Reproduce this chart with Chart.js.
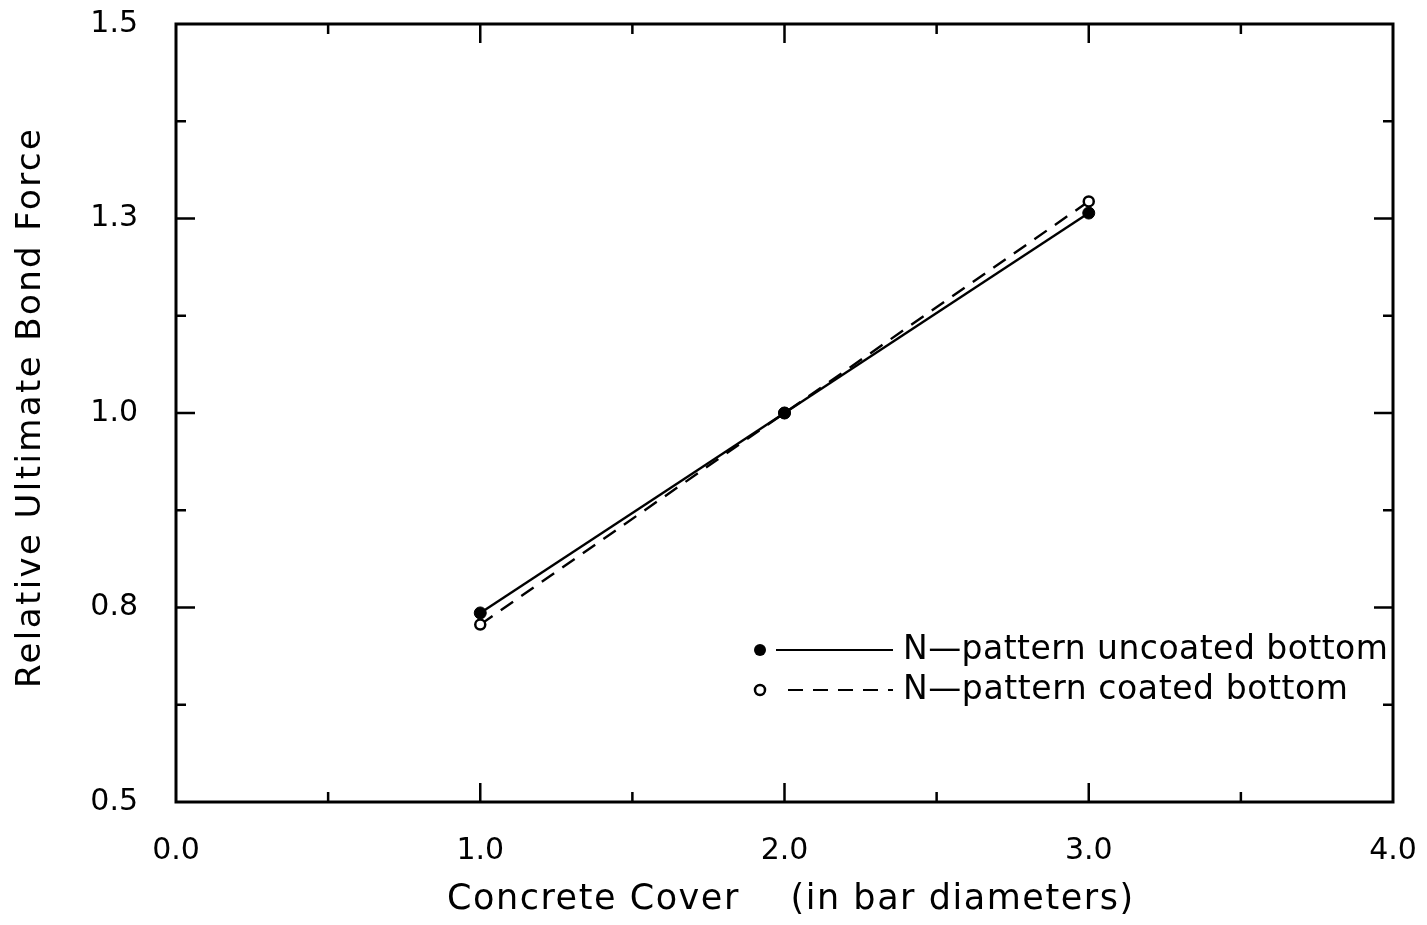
<!DOCTYPE html>
<html>
<head>
<meta charset="utf-8">
<title>Relative Ultimate Bond Force vs Concrete Cover</title>
<script src="https://cdn.jsdelivr.net/npm/chart.js@4.4.1/dist/chart.umd.min.js"></script>
<style>
  html, body { margin: 0; padding: 0; background: #ffffff; }
  #wrap { width: 1427px; height: 925px; position: relative; }
</style>
</head>
<body>
<div id="wrap"><canvas id="c" width="1427" height="925"></canvas></div>
<script>
// ---- data ----
const coverValues   = [1.0, 2.0, 3.0];
const uncoatedForce = [0.743, 1.0, 1.257];
const coatedForce   = [0.728, 1.0, 1.272];

const xTicks      = [0, 1, 2, 3, 4];
const xTickLabels = ['0.0', '1.0', '2.0', '3.0', '4.0'];
const xMinorTicks = [0.5, 1.5, 2.5, 3.5];
const yTicks      = [0.5, 0.75, 1.0, 1.25, 1.5];
const yTickLabels = ['0.5', '0.8', '1.0', '1.3', '1.5'];
const yMinorTicks = [0.625, 0.875, 1.125, 1.375];

const seriesNames = ['N\u2014pattern uncoated bottom', 'N\u2014pattern coated bottom'];
const xTitle = 'Concrete Cover    (in bar diameters)';
const yTitle = 'Relative Ultimate Bond Force';

// ---- styling ----
const FONT = '"DejaVu Sans", "Liberation Sans", sans-serif';
const INK = '#000000';

function toPoints(xs, ys) { return xs.map((x, i) => ({ x: x, y: ys[i] })); }

// Keep the plot frame fixed: no extra room reserved for overhanging tick labels
function noOverhang(s) {
  s.paddingTop = 0; s.paddingBottom = 0; s.paddingLeft = 0; s.paddingRight = 0;
}

// Text stretched to a given width with even letter spacing
function spacedText(ctx, text, x, y, width, font) {
  ctx.font = font;
  ctx.letterSpacing = '0px';
  const natural = ctx.measureText(text).width;
  const ls = (width - natural) / Math.max(1, text.length - 1);
  ctx.letterSpacing = ls.toFixed(2) + 'px';
  ctx.textAlign = 'left';
  ctx.fillText(text, x, y);
  ctx.letterSpacing = '0px';
}

// Closed frame with inward ticks on all four sides
const framePlugin = {
  id: 'frame',
  afterDraw(chart) {
    const { ctx, chartArea: a, scales } = chart;
    const xs = scales.x, ys = scales.y;
    ctx.save();
    ctx.strokeStyle = INK;
    ctx.lineWidth = 3;
    ctx.strokeRect(a.left, a.top, a.right - a.left, a.bottom - a.top);
    ctx.lineWidth = 2.5;
    const major = 19, minor = 10;
    const tickX = (v, len) => {
      const px = xs.getPixelForValue(v);
      ctx.beginPath();
      ctx.moveTo(px, a.bottom); ctx.lineTo(px, a.bottom - len);
      ctx.moveTo(px, a.top);    ctx.lineTo(px, a.top + len);
      ctx.stroke();
    };
    const tickY = (v, len) => {
      const py = ys.getPixelForValue(v);
      ctx.beginPath();
      ctx.moveTo(a.left, py);  ctx.lineTo(a.left + len, py);
      ctx.moveTo(a.right, py); ctx.lineTo(a.right - len, py);
      ctx.stroke();
    };
    xTicks.slice(1, -1).forEach(v => tickX(v, major));
    xMinorTicks.forEach(v => tickX(v, minor));
    yTicks.slice(1, -1).forEach(v => tickY(v, major));
    yMinorTicks.forEach(v => tickY(v, minor));
    ctx.restore();
  }
};

// Axis titles and the in-plot key
const labelPlugin = {
  id: 'labels',
  afterDraw(chart) {
    const { ctx } = chart;
    ctx.save();
    ctx.fillStyle = INK;
    ctx.textBaseline = 'middle';

    // x title
    spacedText(ctx, xTitle, 447, 900, 686, '35px ' + FONT);

    // y title (rotated)
    ctx.save();
    ctx.translate(31, 408);
    ctx.rotate(-Math.PI / 2);
    spacedText(ctx, yTitle, -280, 0, 559, '34px ' + FONT);
    ctx.restore();

    // key
    const rows = [650, 690];
    const markX = 760;
    ctx.strokeStyle = INK;
    ctx.lineWidth = 2.2;

    // filled marker + solid line
    ctx.beginPath();
    ctx.arc(markX, rows[0], 6, 0, Math.PI * 2);
    ctx.fill();
    ctx.beginPath();
    ctx.moveTo(776, rows[0]); ctx.lineTo(893, rows[0]);
    ctx.stroke();

    // open marker + dashed line
    ctx.beginPath();
    ctx.fillStyle = '#ffffff';
    ctx.lineWidth = 2.5;
    ctx.arc(markX, rows[1], 5, 0, Math.PI * 2);
    ctx.fill(); ctx.stroke();
    ctx.fillStyle = INK;
    ctx.lineWidth = 2.2;
    ctx.setLineDash([15, 10]);
    ctx.beginPath();
    ctx.moveTo(788, rows[1]); ctx.lineTo(893, rows[1]);
    ctx.stroke();
    ctx.setLineDash([]);

    spacedText(ctx, seriesNames[0], 903, rows[0], 485, '33px ' + FONT);
    spacedText(ctx, seriesNames[1], 903, rows[1], 445, '33px ' + FONT);
    ctx.restore();
  }
};

new Chart(document.getElementById('c'), {
  type: 'scatter',
  data: {
    datasets: [
      {
        label: seriesNames[0],
        data: toPoints(coverValues, uncoatedForce),
        showLine: true,
        borderColor: INK,
        borderWidth: 2.4,
        pointStyle: 'circle',
        pointRadius: 6,
        pointBackgroundColor: INK,
        pointBorderColor: INK,
        pointBorderWidth: 1
      },
      {
        label: seriesNames[1],
        data: toPoints(coverValues, coatedForce),
        showLine: true,
        borderColor: INK,
        borderWidth: 2.4,
        borderDash: [15, 10],
        pointStyle: 'circle',
        pointRadius: 5,
        pointBackgroundColor: '#ffffff',
        pointBorderColor: INK,
        pointBorderWidth: 2.5
      }
    ]
  },
  options: {
    responsive: false,
    animation: false,
    devicePixelRatio: 1,
    layout: { padding: { top: 24, right: 34, left: 0, bottom: 0 } },
    plugins: {
      legend: { display: false },
      tooltip: { enabled: false },
      title: { display: false }
    },
    scales: {
      x: {
        type: 'linear',
        min: 0, max: 4,
        afterBuildTicks: s => { s.ticks = xTicks.map(v => ({ value: v })); },
        afterFit: s => { s.height = 123; noOverhang(s); },
        ticks: {
          callback: (v) => xTickLabels[xTicks.indexOf(v)],
          color: INK,
          font: { family: FONT, size: 30 },
          padding: 31,
          maxRotation: 0,
          autoSkip: false
        },
        grid: { display: false, drawTicks: false },
        border: { display: false }
      },
      y: {
        type: 'linear',
        min: 0.5, max: 1.5,
        afterBuildTicks: s => { s.ticks = yTicks.map(v => ({ value: v })); },
        afterFit: s => { s.width = 176; noOverhang(s); },
        ticks: {
          callback: (v) => yTickLabels[yTicks.indexOf(v)],
          color: INK,
          font: { family: FONT, size: 30 },
          padding: 38,
          autoSkip: false
        },
        grid: { display: false, drawTicks: false },
        border: { display: false }
      }
    }
  },
  plugins: [framePlugin, labelPlugin]
});
</script>
</body>
</html>
